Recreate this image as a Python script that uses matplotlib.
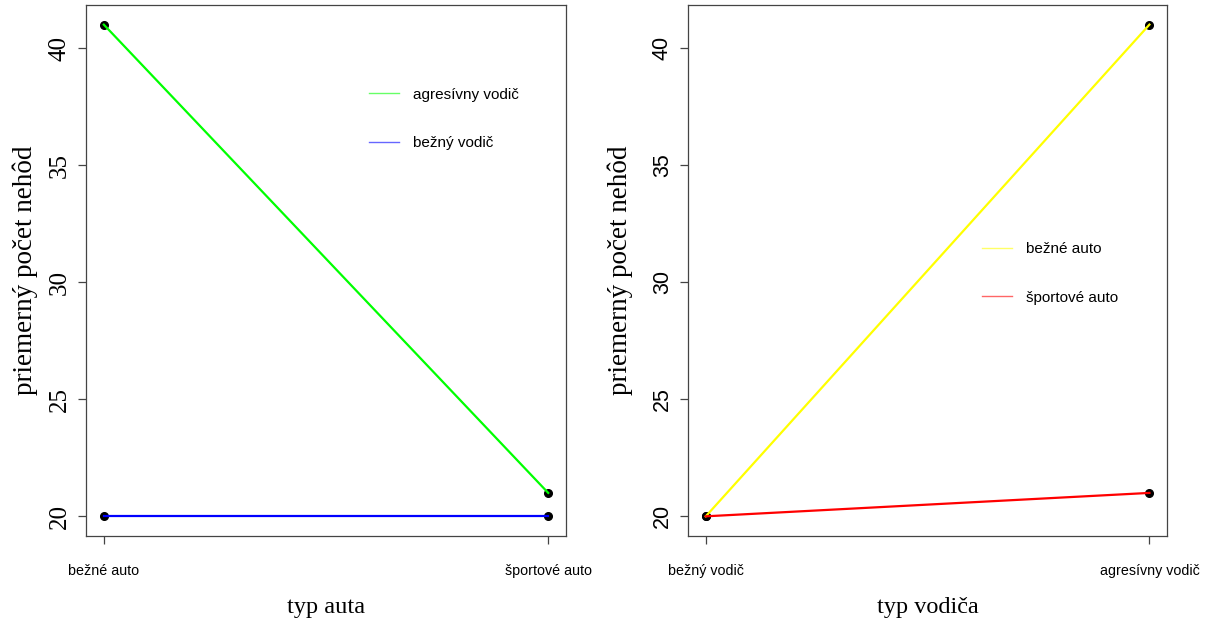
import numpy as np
import matplotlib
matplotlib.use('Agg')
import matplotlib.pyplot as plt

# left panel: x = typ auta, one line per type of driver
auta = ['bežné auto', 'športové auto']
agresivny = [41, 21]
bezny = [20, 20]

# right panel: x = typ vodiča, one line per type of car
vodici = ['bežný vodič', 'agresívny vodič']
bezne_auto = [20, 41]
sportove_auto = [20, 21]

yticks = [20, 25, 30, 35, 40]

SERIF = 'Liberation Serif'
SANS = 'Liberation Sans'
spine_col = '#444444'

fig = plt.figure(figsize=(12.12, 6.2), dpi=100)


def panel(rect, cats, series, xlab, ylab_x, tick_font, tick_size, leg_pos):
    ax = fig.add_axes(rect)
    x = np.arange(1, len(cats) + 1)
    for vals, col, lab in series:
        ax.plot(x, vals, 'o', color='black', markersize=5.5, zorder=2)
    for vals, col, lab in series:
        ax.plot(x, vals, '-', color=col, linewidth=1.6, zorder=3)
    ax.set_xlim(0.96, 2.04)
    ax.set_ylim(19.16, 41.84)
    ax.set_xticks(x)
    ax.set_xticklabels(cats, fontfamily=SANS, fontsize=10.3)
    ax.set_yticks(yticks)
    ax.set_yticklabels([str(v) for v in yticks], fontfamily=tick_font,
                       fontsize=tick_size, rotation=90, va='center')
    ax.tick_params(axis='both', direction='out', length=6, width=0.9,
                   color=spine_col)
    ax.tick_params(axis='x', pad=14)
    ax.tick_params(axis='y', pad=5)
    for s in ax.spines.values():
        s.set_color(spine_col)
        s.set_linewidth(0.9)
    ax.set_xlabel(xlab, fontfamily=SERIF, fontsize=17.5, labelpad=14)
    ax.set_ylabel('priemerný počet nehôd', fontfamily=SERIF, fontsize=19.5)
    ax.yaxis.set_label_coords(ylab_x, 0.5)

    handles = [plt.Line2D([], [], color=col, linewidth=1.0, alpha=0.6)
               for vals, col, lab in series]
    labels = [lab for vals, col, lab in series]
    ax.legend(handles, labels, loc='upper left', bbox_to_anchor=leg_pos,
              frameon=False, prop={'family': SANS, 'size': 11},
              handlelength=1.95, handletextpad=0.9, labelspacing=2.25,
              borderpad=0, borderaxespad=0)
    return ax


panel([0.071, 0.1355, 0.396, 0.8565], auta,
      [(agresivny, '#00ff00', 'agresívny vodič'),
       (bezny, '#0000ff', 'bežný vodič')],
      'typ auta', -0.10, SERIF, 18, (0.59, 0.844))

panel([0.5677, 0.1355, 0.3953, 0.8565], vodici,
      [(bezne_auto, '#ffff00', 'bežné auto'),
       (sportove_auto, '#ff0000', 'športové auto')],
      'typ vodiča', -0.115, SANS, 15.5, (0.614, 0.553))

fig.savefig('out.png', dpi=100)
